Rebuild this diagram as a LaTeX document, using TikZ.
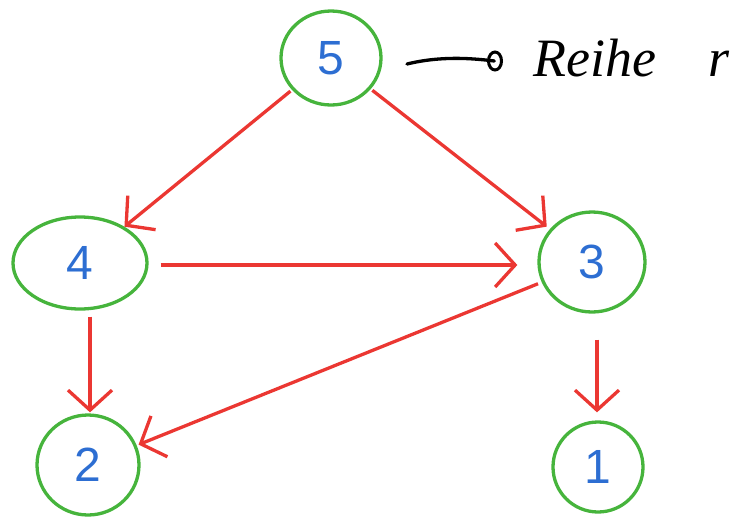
\documentclass[tikz,border=0pt]{standalone}
\usepackage{fontspec}
\setmainfont{Liberation Sans}
\newfontfamily\handfont{Liberation Serif}
\usetikzlibrary{shapes.geometric,arrows.meta}
\definecolor{ringgreen}{RGB}{70,180,60}
\definecolor{edgered}{RGB}{235,55,50}
\definecolor{digitblue}{RGB}{45,110,210}
\tikzset{
  vertex/.style={draw=ringgreen, line width=3.3pt, ellipse, inner sep=0pt,
    text=digitblue, font=\fontsize{48}{48}\selectfont},
  edge/.style={draw=edgered, line width=3.3pt,
    -{Straight Barb[length=20pt,width=44pt,line width=3.3pt]}},
}
\begin{document}
\begin{tikzpicture}[x=1pt,y=-1pt]
  \useasboundingbox (0,0) rectangle (745,523);
  % vertices
  \node[vertex, minimum width=100pt, minimum height=94pt] (v5) at (331,58) {5};
  \node[vertex, minimum width=134pt, minimum height=92pt] (v4) at (80,263) {4};
  \node[vertex, minimum width=106pt, minimum height=100pt] (v3) at (592,262) {3};
  \node[vertex, minimum width=102pt, minimum height=100pt] (v2) at (88,465) {2};
  \node[vertex, minimum width=90pt, minimum height=90pt] (v1) at (598,467) {1};
  % edges
  \draw[edge, shorten <=2pt] (v5) -- (v4);
  \draw[edge, shorten <=2pt, shorten >=4pt] (v5) -- (v3);
  \draw[edge, shorten <=12pt, shorten >=20pt] (v4.east |- 0,265) -- (v3.west |- 0,265);
  \draw[edge, shorten <=4pt, shorten >=2pt] (v3) -- (v2);
  \draw[edge, shorten <=6pt, shorten >=1pt] (v4.south -| 90,0) -- (v2.north -| 90,0);
  \draw[edge, shorten <=26pt, shorten >=8pt] (v3.south -| 597,0) -- (v1.north -| 597,0);
  % annotation
  \coordinate (a0) at (407,64);
  \node[inner sep=0pt] (ring) at (495,61) {};
  \draw[line width=3.3pt, line cap=round] (a0) .. controls (440,56) and (470,58) .. (ring.west);
  \draw[line width=3pt] (ring) ellipse (6.5pt and 9pt);
  \node[font=\handfont\itshape\fontsize{54}{54}\selectfont, anchor=base west] (word) at (530,76) {Reihe};
  \node[font=\handfont\itshape\fontsize{54}{54}\selectfont, anchor=base west] (letter) at (705,76) {r};
\end{tikzpicture}
\end{document}
